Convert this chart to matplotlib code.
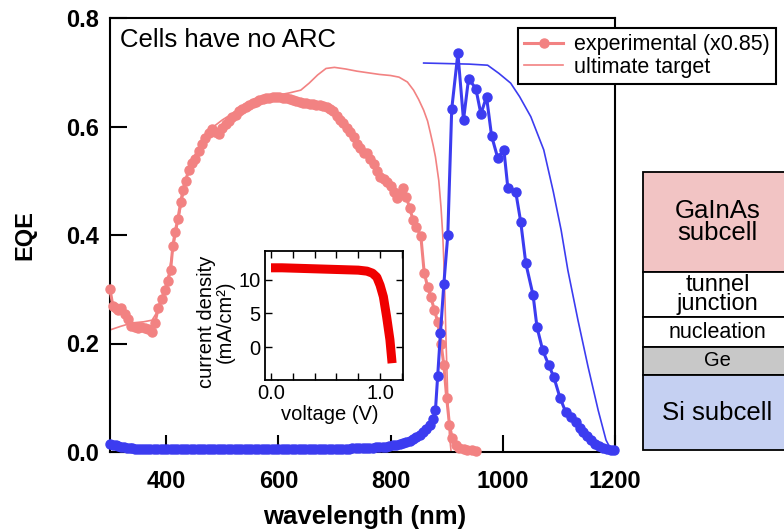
import matplotlib
matplotlib.use("Agg")
import matplotlib.pyplot as plt
from matplotlib.patches import Rectangle
from matplotlib.ticker import MultipleLocator

plt.rcParams['font.family'] = ['Liberation Sans', 'DejaVu Sans']

# ---------------- data ----------------
pink_exp_wl = [300, 305, 310, 315, 320, 326, 332, 338, 344, 350, 356, 362, 368, 374, 380, 386, 392, 398,
               403, 408, 412, 416, 421, 426, 430, 435, 440, 446, 452, 458, 464, 470, 476, 482, 488, 494,
               500, 506, 512, 518, 524, 530, 536, 542, 548, 554, 560, 566, 572, 578, 584, 590, 596, 602,
               608, 614, 620, 626, 632, 638, 644, 650, 656, 662, 668, 674, 680, 686, 692, 698, 704, 710,
               716, 722, 728, 734, 740, 746, 752, 758, 764, 770, 776, 782, 788, 794, 800, 806, 812, 818,
               822, 828, 834, 840, 846, 854, 860, 866, 872, 878, 884, 890, 895, 900, 905, 910, 916, 922,
               930, 937, 945, 952]
pink_exp_eqe = [0.300, 0.270, 0.265, 0.262, 0.265, 0.255, 0.245, 0.232, 0.230, 0.229, 0.230, 0.229, 0.226,
                0.222, 0.238, 0.265, 0.282, 0.298, 0.315, 0.335, 0.380, 0.405, 0.430, 0.460, 0.483, 0.500,
                0.520, 0.532, 0.540, 0.555, 0.567, 0.578, 0.588, 0.595, 0.590, 0.587, 0.597, 0.604, 0.610,
                0.617, 0.622, 0.628, 0.632, 0.636, 0.640, 0.643, 0.646, 0.648, 0.650, 0.652, 0.653, 0.654,
                0.655, 0.654, 0.653, 0.652, 0.651, 0.649, 0.647, 0.645, 0.644, 0.643, 0.642, 0.641, 0.640,
                0.639, 0.638, 0.636, 0.633, 0.628, 0.620, 0.612, 0.606, 0.598, 0.590, 0.581, 0.568, 0.560,
                0.551, 0.551, 0.540, 0.530, 0.518, 0.507, 0.503, 0.498, 0.490, 0.480, 0.468, 0.478, 0.487,
                0.470, 0.450, 0.428, 0.415, 0.398, 0.330, 0.305, 0.285, 0.262, 0.240, 0.200, 0.160, 0.100,
                0.050, 0.025, 0.012, 0.008, 0.005, 0.004, 0.003, 0.002]

pink_target_wl = [300, 320, 340, 360, 375, 385, 395, 405, 415, 425, 435, 445, 460, 480, 500, 520, 540, 560,
                  580, 600, 620, 640, 655, 670, 685, 700, 720, 740, 760, 780, 800, 815, 830, 841, 850, 859,
                  866, 871, 876, 880, 886, 890, 893, 895, 897, 899, 902, 905, 908, 1200]
pink_target_eqe = [0.225, 0.232, 0.238, 0.240, 0.243, 0.260, 0.290, 0.330, 0.390, 0.445, 0.500, 0.535,
                   0.565, 0.596, 0.612, 0.625, 0.637, 0.646, 0.653, 0.658, 0.662, 0.667, 0.680, 0.695,
                   0.707, 0.709, 0.706, 0.702, 0.699, 0.696, 0.694, 0.691, 0.682, 0.667, 0.650, 0.630,
                   0.610, 0.588, 0.565, 0.544, 0.500, 0.450, 0.400, 0.350, 0.280, 0.200, 0.100, 0.030,
                   0.000, 0.000]

blue_exp_wl = [300, 305, 310, 315, 320, 325, 330, 335, 340, 345, 350, 355, 360, 366, 372, 378, 384, 390,
               396, 402, 408, 414, 420, 426, 432, 438, 444, 450, 456, 462, 468, 474, 480, 486, 492, 498,
               504, 510, 516, 522, 528, 534, 540, 546, 552, 558, 564, 570, 576, 582, 588, 594, 600, 606,
               612, 618, 624, 630, 636, 642, 648, 654, 660, 666, 672, 678, 684, 690, 696, 702, 708, 714,
               720, 726, 732, 738, 744, 750, 756, 762, 768, 774, 780, 786, 792, 798, 804, 810, 816, 822,
               828, 834, 840, 846, 852, 858, 864, 870, 876, 880, 884, 889, 895, 902, 909, 920, 930, 939,
               952, 961, 971, 980, 991, 1002, 1009, 1023, 1032, 1041, 1054, 1061, 1071, 1082, 1091, 1102,
               1112, 1121, 1130, 1137, 1143, 1150, 1157, 1165, 1172, 1178, 1185, 1192, 1198]
blue_exp_eqe = [0.015, 0.013, 0.012, 0.011, 0.010, 0.009, 0.008, 0.007, 0.007, 0.006, 0.006, 0.005,
                0.005, 0.005, 0.005, 0.005, 0.005, 0.005, 0.005, 0.005, 0.005, 0.005, 0.005, 0.005,
                0.005, 0.005, 0.005, 0.005, 0.005, 0.005, 0.005, 0.005, 0.005, 0.005, 0.005, 0.005,
                0.005, 0.005, 0.005, 0.005, 0.005, 0.005, 0.005, 0.005, 0.005, 0.005, 0.005, 0.005,
                0.005, 0.005, 0.005, 0.005, 0.005, 0.005, 0.005, 0.005, 0.005, 0.005, 0.005, 0.005,
                0.005, 0.005, 0.005, 0.005, 0.005, 0.005, 0.006, 0.006, 0.006, 0.006, 0.006, 0.006,
                0.006, 0.006, 0.007, 0.007, 0.007, 0.007, 0.008, 0.008, 0.008, 0.009, 0.009, 0.010,
                0.010, 0.011, 0.012, 0.013, 0.015, 0.017, 0.019, 0.021, 0.024, 0.028, 0.032, 0.037,
                0.043, 0.050, 0.060, 0.077, 0.140, 0.220, 0.310, 0.400, 0.632, 0.735, 0.612, 0.688,
                0.670, 0.623, 0.655, 0.583, 0.542, 0.557, 0.487, 0.480, 0.424, 0.348, 0.289, 0.230,
                0.188, 0.160, 0.138, 0.100, 0.074, 0.064, 0.055, 0.045, 0.037, 0.030, 0.022, 0.015,
                0.011, 0.008, 0.006, 0.004, 0.004]

blue_target_wl = [859, 900, 940, 973, 993, 1014, 1030, 1050, 1073, 1090, 1104, 1116, 1134, 1152, 1170,
                  1184, 1193]
blue_target_eqe = [0.717, 0.716, 0.715, 0.713, 0.698, 0.680, 0.655, 0.618, 0.557, 0.480, 0.409, 0.335,
                   0.243, 0.157, 0.077, 0.022, 0.004]

iv_voltage = [0.0, 0.1, 0.2, 0.3, 0.4, 0.5, 0.6, 0.7, 0.8, 0.88, 0.93, 0.97, 1.0, 1.03, 1.06, 1.09, 1.11]
iv_current = [11.8, 11.8, 11.75, 11.7, 11.65, 11.6, 11.55, 11.5, 11.45, 11.3, 11.0, 10.4, 9.2, 7.5, 4.5,
              1.1, -2.4]

layer_names = ["GaInAs\nsubcell", "tunnel\njunction", "nucleation", "Ge", "Si subcell"]
layer_heights = [100, 45, 30, 28, 75]
layer_colors = ["#f2c4c4", "#ffffff", "#ffffff", "#c8c8c8", "#c5d0f2"]
layer_fontsizes = [18.5, 17, 15.5, 14.5, 18.5]

PINK = "#f28282"
BLUE = "#3c3cf0"

# ---------------- figure ----------------
W, H = 784, 531
fig = plt.figure(figsize=(W / 100, H / 100), dpi=100)

def rect(l, t, r, b):
    return [l / W, (H - b) / H, (r - l) / W, (b - t) / H]

ax = fig.add_axes(rect(110, 18, 615, 452))
ax.plot(pink_target_wl, pink_target_eqe, color=PINK, lw=1.2, zorder=2, label="ultimate target")
ax.plot(pink_exp_wl, pink_exp_eqe, color=PINK, lw=2.2, marker='o', ms=6.5, mec=PINK, zorder=3,
        clip_on=False, label="experimental (x0.85)")
ax.plot(blue_target_wl, blue_target_eqe, color=BLUE, lw=1.2, zorder=2)
ax.plot(blue_exp_wl, blue_exp_eqe, color=BLUE, lw=2.2, marker='o', ms=6.5, mec=BLUE, zorder=4,
        clip_on=False)

ax.set_xlim(300, 1200)
ax.set_ylim(0, 0.8)
ax.tick_params(direction='in', length=12, width=1.5, labelsize=17, top=False, right=False)
ax.tick_params(axis='x', pad=13)
ax.tick_params(axis='y', pad=8)
ax.set_xticks([400, 600, 800, 1000, 1200])
ax.set_xticklabels(["400", "600", "800", "1000", "1200"], fontweight='bold')
ax.set_yticks([0.0, 0.2, 0.4, 0.6, 0.8])
ax.set_yticklabels(["0.0", "0.2", "0.4", "0.6", "0.8"], fontweight='bold')
for s in ax.spines.values():
    s.set_linewidth(1.5)
ax.set_xlabel("wavelength (nm)", fontsize=18.5, fontweight='bold')
ax.set_ylabel("EQE", fontsize=17, fontweight='bold')
ax.xaxis.set_label_coords(0.505, -(517 - 452) / 434, transform=ax.transAxes)
ax.yaxis.set_label_coords(-(110 - 25) / 505, 0.5)
ax.xaxis.label.set_va('center')
ax.yaxis.label.set_va('center')

ax.text(10 / 505, 1 - 22 / 434, "Cells have no ARC", transform=ax.transAxes, fontsize=18.5,
        va='center', ha='left')

handles, labels = ax.get_legend_handles_labels()
leg = fig.legend(handles[::-1], labels[::-1], loc='upper left',
                 bbox_to_anchor=(518 / W, 1 - 28 / H), fontsize=15.5, frameon=True, fancybox=False,
                 handlelength=1.8, handletextpad=0.5, borderpad=0.3, labelspacing=0.05,
                 borderaxespad=0, edgecolor='black')
leg.get_frame().set_linewidth(1.5)
leg.get_frame().set_alpha(1)

# ---------------- inset ----------------
axi = fig.add_axes(rect(265, 251, 403, 380))
axi.plot(iv_voltage, iv_current, color='#f00000', lw=6.5, solid_capstyle='butt')
axi.set_xlim(-0.055, 1.21)
axi.set_ylim(-4.9, 14.3)
axi.set_xticks([0.0, 1.0])
axi.set_xticklabels(["0.0", "1.0"])
axi.xaxis.set_minor_locator(MultipleLocator(0.2))
axi.set_yticks([0, 5, 10])
axi.tick_params(which='both', direction='in', length=5, width=1, labelsize=14.5,
                top=True, right=True, pad=3)
for s in axi.spines.values():
    s.set_linewidth(1.3)
axi.set_xlabel("voltage (V)", fontsize=14.5)
axi.set_ylabel("current density\n(mA/cm\u00b2)", fontsize=14.5, linespacing=0.95)
axi.xaxis.set_label_coords((330 - 265) / 138, -(414 - 380) / 129)
axi.xaxis.label.set_va('center')
axi.yaxis.set_label_coords(-(265 - 216) / 138, 0.45)
axi.yaxis.label.set_va('center')

# ---------------- layer stack ----------------
axs = fig.add_axes(rect(643, 172, 792, 172 + sum(layer_heights)))
axs.set_xlim(0, 1)
axs.set_ylim(sum(layer_heights), 0)
axs.axis('off')
top = 0
for name, h, c, fs in zip(layer_names, layer_heights, layer_colors, layer_fontsizes):
    axs.add_patch(Rectangle((0, top), 1, h, facecolor=c, edgecolor='black', lw=1.3, clip_on=False))
    axs.text(0.5, top + h / 2, name, ha='center', va='center', fontsize=fs, linespacing=0.85)
    top += h

fig.savefig("out.png", dpi=100)
